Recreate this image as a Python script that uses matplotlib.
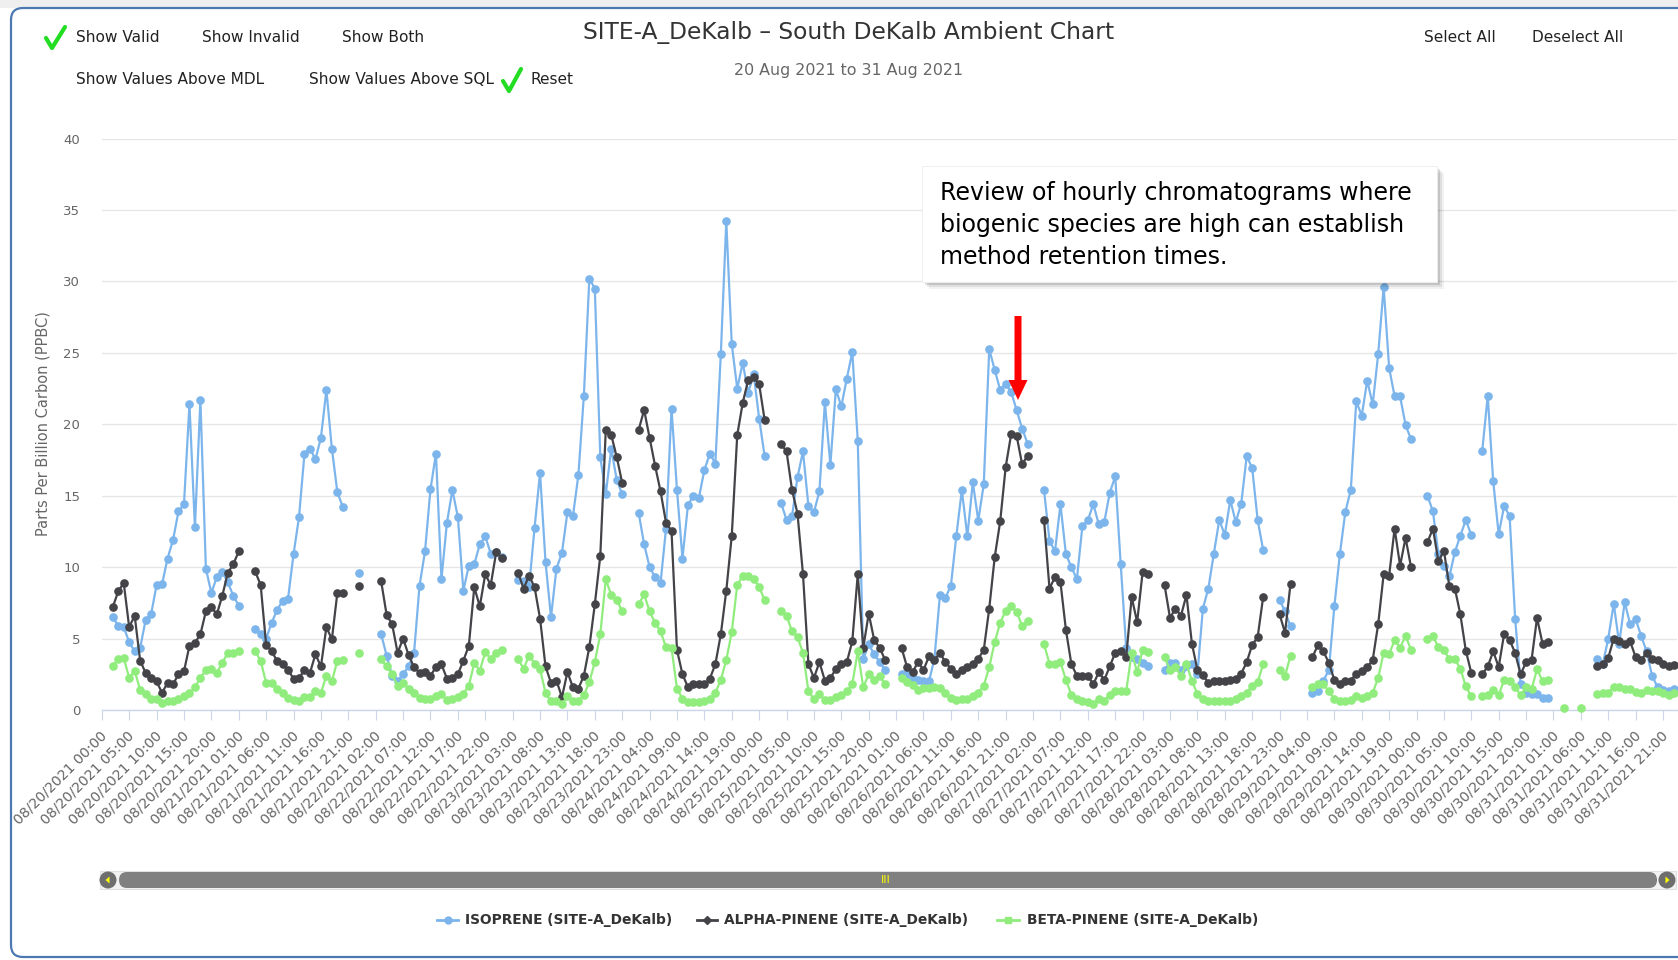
import numpy as np
import matplotlib
matplotlib.use('Agg')
import matplotlib.pyplot as plt
from matplotlib.patches import FancyBboxPatch, Rectangle, Circle, Polygon
from matplotlib.lines import Line2D
from matplotlib.transforms import ScaledTranslation
import pandas as pd

N = None
# hourly values, 08/20/2021 00:00 .. 08/31/2021 23:00 (24 per row)
isoprene = [
    N, N, 6.5, 5.9, 5.8, 4.75, 4.1, 4.35, 6.3, 6.7, 8.75, 8.8, 10.6, 11.9, 13.9, 14.4, 21.4, 12.8, 21.7, 9.9, 8.2, 9.3, 9.65, 8.95,
    8.0, 7.3, N, N, 5.7, 5.35, 5.0, 6.1, 7.0, 7.65, 7.8, 10.9, 13.5, 17.95, 18.3, 17.55, 19.05, 22.4, 18.3, 15.25, 14.2, N, N, 9.6,
    N, N, N, 5.3, 3.8, 2.4, 2.05, 2.5, 3.05, 4.0, 8.7, 11.1, 15.45, 17.95, 9.15, 13.1, 15.4, 13.5, 8.35, 10.1, 10.2, 11.6, 12.15, 10.95,
    11.05, 10.7, N, N, 9.1, 9.0, 8.6, 12.75, 16.6, 10.35, 6.5, 9.9, 11.0, 13.85, 13.55, 16.45, 22.0, 30.2, 29.5, 17.7, 15.1, 18.3, 16.1, 15.1,
    N, N, 13.8, 11.6, 10.0, 9.3, 8.9, 12.7, 21.1, 15.4, 10.6, 14.35, 15.0, 14.85, 16.8, 17.95, 17.25, 24.9, 34.2, 25.6, 22.5, 24.3, 22.2, 23.5,
    20.4, 17.75, N, N, 14.5, 13.3, 13.55, 16.3, 18.1, 14.25, 13.85, 15.3, 21.55, 17.15, 22.45, 21.25, 23.2, 25.05, 18.85, 3.55, 4.6, 3.9, 3.35, 2.8,
    N, N, 2.5, 2.55, 2.25, 2.1, 2.0, 2.0, 3.6, 8.05, 7.85, 8.7, 12.2, 15.4, 12.15, 15.95, 13.25, 15.8, 25.25, 23.8, 22.4, 22.85, 22.25, 21.0,
    19.7, 18.65, N, N, 15.4, 11.85, 11.1, 14.4, 10.9, 10.0, 9.15, 12.85, 13.3, 14.4, 13.0, 13.15, 15.2, 16.35, 10.2, 4.35, 3.7, 3.55, 3.3, 3.05,
    N, N, 2.8, 3.3, 3.3, 2.8, 3.05, 3.2, 2.5, 7.1, 8.5, 10.95, 13.3, 12.25, 14.7, 13.15, 14.45, 17.75, 16.95, 13.3, 11.2, N, N, 7.7,
    6.9, 5.85, N, N, N, 1.2, 1.35, 2.05, 2.8, 7.25, 10.9, 13.85, 15.4, 21.6, 20.6, 23.05, 21.4, 24.9, 29.6, 23.95, 21.95, 21.95, 19.95, 18.95,
    N, N, 15.0, 13.9, 10.9, 10.1, 9.35, 11.05, 12.2, 13.3, 12.25, N, 18.15, 22.0, 16.0, 12.3, 14.3, 13.55, 6.4, 1.85, 1.2, 1.15, 1.1, 0.85,
    0.85, N, N, N, N, N, N, N, N, 3.55, 3.2, 5.0, 7.45, 4.65, 7.55, 6.0, 6.35, 5.2, 4.1, 2.4, 1.6, 1.4, 1.35, 1.45,
]
alpha_pinene = [
    N, N, 7.2, 8.3, 8.9, 5.8, 6.6, 3.45, 2.6, 2.25, 2.0, 1.2, 1.9, 1.8, 2.5, 2.7, 4.5, 4.7, 5.3, 6.9, 7.2, 6.7, 8.0, 9.6,
    10.2, 11.1, N, N, 9.7, 8.75, 4.55, 4.1, 3.45, 3.2, 2.8, 2.2, 2.25, 2.8, 2.6, 3.9, 3.05, 5.8, 4.95, 8.2, 8.2, N, N, 8.7,
    N, N, N, 9.0, 6.65, 6.0, 4.0, 5.0, 3.85, 3.0, 2.6, 2.65, 2.4, 3.0, 3.2, 2.2, 2.25, 2.5, 3.45, 4.5, 8.6, 7.25, 9.5, 8.75,
    11.05, 10.65, N, N, 9.6, 8.5, 9.4, 8.6, 6.4, 3.05, 1.9, 2.05, 0.9, 2.65, 1.6, 1.5, 2.4, 4.4, 7.4, 10.8, 19.6, 19.25, 17.7, 15.9,
    N, N, 19.6, 21.0, 19.05, 17.1, 15.3, 13.1, 12.55, 4.2, 2.5, 1.6, 1.8, 1.8, 1.8, 2.2, 3.2, 5.3, 8.35, 12.2, 19.25, 21.5, 23.1, 23.3,
    22.8, 20.3, N, N, 18.6, 18.1, 15.4, 13.75, 9.5, 3.2, 2.25, 3.35, 2.05, 2.25, 2.85, 3.2, 3.35, 4.8, 9.5, 4.35, 6.75, 4.9, 4.35, 3.5,
    N, N, 4.35, 3.0, 2.65, 3.35, 2.8, 3.75, 3.5, 4.0, 3.35, 2.9, 2.55, 2.8, 3.0, 3.2, 3.6, 4.2, 7.1, 10.7, 13.2, 17.0, 19.3, 19.2,
    17.2, 17.8, N, N, 13.3, 8.5, 9.3, 8.95, 5.6, 3.2, 2.4, 2.4, 2.4, 1.8, 2.65, 2.1, 3.05, 4.0, 4.1, 3.7, 7.9, 6.15, 9.65, 9.55,
    N, N, 8.75, 6.45, 7.1, 6.6, 8.05, 4.65, 2.8, 2.45, 1.9, 2.0, 2.0, 2.05, 2.1, 2.2, 2.55, 3.35, 4.55, 5.1, 7.9, N, N, 6.7,
    5.4, 8.85, N, N, N, 3.7, 4.55, 4.1, 3.3, 2.1, 1.8, 2.0, 2.05, 2.55, 2.7, 3.0, 3.5, 6.0, 9.5, 9.4, 12.7, 10.1, 12.05, 10.0,
    N, N, 11.75, 12.7, 10.4, 11.15, 8.65, 8.5, 6.7, 4.15, 2.6, N, 2.5, 3.05, 4.1, 3.0, 5.35, 4.9, 4.0, 2.5, 3.35, 3.5, 6.45, 4.65,
    4.75, N, N, N, N, N, N, N, N, 3.1, 3.2, 3.65, 5.0, 4.85, 4.65, 4.8, 3.7, 3.5, 4.0, 3.55, 3.5, 3.2, 3.05, 3.15,
]
beta_pinene = [
    N, N, 3.1, 3.55, 3.65, 2.25, 2.75, 1.4, 1.1, 0.8, 0.8, 0.5, 0.6, 0.6, 0.8, 1.0, 1.2, 1.6, 2.25, 2.8, 2.85, 2.6, 3.3, 4.0,
    4.0, 4.15, N, N, 4.1, 3.45, 1.9, 1.9, 1.5, 1.2, 0.85, 0.7, 0.65, 0.9, 0.9, 1.3, 1.2, 2.4, 2.0, 3.45, 3.5, N, N, 4.0,
    N, N, N, 3.55, 3.05, 2.5, 1.7, 1.9, 1.5, 1.2, 0.85, 0.8, 0.8, 0.95, 1.15, 0.7, 0.8, 0.9, 1.15, 1.7, 3.3, 2.75, 4.05, 3.6,
    4.0, 4.2, N, N, 3.55, 2.9, 3.8, 3.25, 2.85, 1.2, 0.6, 0.65, 0.4, 0.95, 0.6, 0.6, 1.05, 1.95, 3.35, 5.3, 9.15, 8.05, 7.7, 6.9,
    N, N, 7.4, 8.1, 6.9, 6.1, 5.5, 4.4, 4.35, 1.5, 0.8, 0.55, 0.55, 0.55, 0.6, 0.8, 1.2, 2.1, 3.5, 5.45, 8.75, 9.4, 9.4, 9.2,
    8.6, 7.7, N, N, 6.9, 6.6, 5.5, 5.1, 4.0, 1.3, 0.75, 1.1, 0.7, 0.7, 0.9, 1.05, 1.3, 1.8, 4.1, 1.6, 2.5, 2.1, 2.4, 1.8,
    N, N, 2.25, 1.95, 1.75, 1.4, 1.55, 1.55, 1.6, 1.55, 1.2, 0.85, 0.7, 0.8, 0.8, 1.0, 1.2, 1.7, 3.0, 4.75, 6.1, 6.95, 7.3, 6.85,
    5.9, 6.25, N, N, 4.6, 3.25, 3.25, 3.35, 2.1, 1.05, 0.75, 0.65, 0.55, 0.45, 0.75, 0.65, 1.05, 1.3, 1.3, 1.3, 4.0, 2.65, 4.2, 4.05,
    N, N, 3.7, 2.8, 3.0, 2.4, 3.2, 2.05, 1.1, 0.8, 0.6, 0.6, 0.6, 0.6, 0.65, 0.8, 0.95, 1.2, 1.7, 1.95, 3.2, N, N, 2.8,
    2.4, 3.8, N, N, N, 1.6, 1.8, 1.8, 1.3, 0.8, 0.6, 0.65, 0.7, 1.0, 0.85, 0.95, 1.2, 2.25, 4.0, 3.9, 4.9, 4.35, 5.2, 4.2,
    N, N, 5.0, 5.15, 4.4, 4.2, 3.55, 3.55, 2.9, 1.65, 0.95, N, 0.95, 1.05, 1.4, 1.05, 2.1, 2.0, 1.6, 1.05, 1.6, 1.45, 2.85, 2.05,
    2.1, N, N, 0.15, N, N, 0.15, N, N, 1.1, 1.2, 1.2, 1.6, 1.6, 1.5, 1.5, 1.25, 1.2, 1.4, 1.35, 1.3, 1.2, 1.05, 1.2,
]
series_names = ['ISOPRENE (SITE-A_DeKalb)', 'ALPHA-PINENE (SITE-A_DeKalb)', 'BETA-PINENE (SITE-A_DeKalb)']
series_colors = ['#7cb5ec', '#434348', '#90ed7d']
yticks = [0, 5, 10, 15, 20, 25, 30, 35, 40]

hours = pd.date_range('2021-08-20 00:00', periods=len(isoprene), freq='h')
tick_idx = list(range(0, len(hours), 5))
tick_labels = [hours[i].strftime('%m/%d/%Y %H:%M') for i in tick_idx]

W, H = 1678, 960
fig = plt.figure(figsize=(W / 100, H / 100), dpi=100)
fig.patch.set_facecolor('white')

px_per_h = 5.478
x0 = 101.8
xmax = 287.5
x1 = x0 + px_per_h * xmax
ytop, ybot = 138.5, 710.0
ax = fig.add_axes([x0 / W, 1 - ybot / H, (x1 - x0) / W, (ybot - ytop) / H])

xs = np.arange(len(hours))
for vals, col in zip([isoprene, alpha_pinene, beta_pinene], series_colors):
    arr = np.array([np.nan if v is None else v for v in vals], dtype=float)
    ax.plot(xs, arr, color=col, lw=1.6, marker='o', ms=5.2, mec=col, mfc=col, clip_on=False, zorder=3)

ax.set_xlim(0, xmax)
ax.set_ylim(0, 40)
ax.set_yticks(yticks)
ax.yaxis.grid(True, color='#e6e6e6', lw=1.0)
ax.set_axisbelow(True)
for s in ['top', 'right', 'left']:
    ax.spines[s].set_visible(False)
ax.spines['bottom'].set_color('#ccd6eb')
ax.spines['bottom'].set_linewidth(1.0)
ax.tick_params(axis='y', length=0, pad=15.5, labelsize=9.5, labelcolor='#666666')
ax.set_xticks(tick_idx)
ax.set_xticklabels(tick_labels, rotation=45, ha='right', va='center', rotation_mode='anchor')
ax.tick_params(axis='x', direction='out', length=7.2, width=0.8, color='#ccd6eb', pad=9.5,
               labelsize=10.2, labelcolor='#666666')
for lab in ax.get_xticklabels():
    lab.set_transform(lab.get_transform() + ScaledTranslation(3 / 100, 0, fig.dpi_scale_trans))

# overlay in pixel coordinates (y downwards)
ov = fig.add_axes([0, 0, 1, 1], zorder=5)
ov.set_xlim(0, W)
ov.set_ylim(H, 0)
ov.axis('off')
ov.patch.set_alpha(0)

renderer = fig.canvas.get_renderer()

def fit(t, target_w):
    bb = t.get_window_extent(renderer)
    t.set_fontsize(t.get_fontsize() * target_w / bb.width)
    return t

# outer frame
ov.add_patch(Rectangle((0, 0), W, 8, fc='#efefef', ec='none'))
ov.add_patch(FancyBboxPatch((11, 8), 1720, 949, boxstyle='round,pad=0,rounding_size=12',
                            fc='none', ec='#4d79b3', lw=1.6))

# title / subtitle
t = ov.text(849, 32, 'SITE-A_DeKalb \u2013 South DeKalb Ambient Chart', ha='center', va='center',
            fontsize=16, color='#333333')
fit(t, 534)
t = ov.text(849, 70, '20 Aug 2021 to 31 Aug 2021', ha='center', va='center', fontsize=11, color='#666666')
fit(t, 228)

# buttons
btn = ov.text(76, 80, 'Show Values Above MDL', ha='left', va='center', fontsize=11, color='#222222')
fit(btn, 189)
bfs = btn.get_fontsize()
for x, y, s in [(76, 37, 'Show Valid'), (202, 37, 'Show Invalid'), (342, 37, 'Show Both'),
                (309, 80, 'Show Values Above SQL'), (530, 80, 'Reset'),
                (1424, 37, 'Select All'), (1532, 37, 'Deselect All')]:
    ov.text(x, y, s, ha='left', va='center', fontsize=bfs, color='#222222')
for pts in [[(46, 38), (52, 48), (65, 27)], [(503, 81), (509, 91), (521, 69)]]:
    ov.add_line(Line2D([p[0] for p in pts], [p[1] for p in pts], color='#22dd22', lw=3.0,
                       solid_capstyle='round', solid_joinstyle='round'))

# y-axis title
yt = ov.text(43, 424, 'Parts Per Billion Carbon (PPBC)', rotation=90, ha='center', va='center',
             fontsize=10.5, color='#666666')

# annotation box with shadow
for k, a in [(7, 0.05), (5, 0.08), (3, 0.12)]:
    ov.add_patch(Rectangle((922 + k, 166 + k), 515, 116, fc='black', ec='none', alpha=a))
ov.add_patch(Rectangle((922, 166), 515, 116, fc='white', ec='#eeeeee', lw=0.6))
ann_lines = ['Review of hourly chromatograms where', 'biogenic species are high can establish',
             'method retention times.']
t1 = ov.text(940, 193, ann_lines[0], ha='left', va='center', fontsize=17, color='black')
fit(t1, 473)
afs = t1.get_fontsize()
ov.text(940, 225, ann_lines[1], ha='left', va='center', fontsize=afs, color='black')
ov.text(940, 257, ann_lines[2], ha='left', va='center', fontsize=afs, color='black')

# red arrow
ov.add_patch(Polygon([(1014.5, 316), (1021.5, 316), (1021.5, 380), (1027.5, 380), (1018, 400),
                      (1008.5, 380), (1014.5, 380)], closed=True, fc='#ff0000', ec='none'))

# scrollbar
ov.add_patch(Rectangle((100, 871), 1576, 18, fc='#f2f2f2', ec='#e0e0e0', lw=0.8))
ov.add_patch(FancyBboxPatch((119, 872), 1538, 16, boxstyle='round,pad=0,rounding_size=8',
                            fc='#808080', ec='none'))
for cx, d in [(108, -1), (1667, 1)]:
    ov.add_patch(Circle((cx, 880), 8.5, fc='#6e6e6e', ec='none'))
    ov.add_patch(Polygon([(cx + 2.5 * d, 880), (cx - 1.5 * d, 876.5), (cx - 1.5 * d, 883.5)],
                         closed=True, fc='#ffff00', ec='none'))
ov.text(886, 880, 'III', ha='center', va='center', fontsize=8, color='#ffff00')

# legend
leg = [(437, 458, 465, 'o'), (697, 717, 724, 'D'), (997, 1019, 1027, 's')]
lt = ov.text(724, 920, series_names[1], ha='left', va='center', fontsize=10, fontweight='bold',
             color='#333333')
fit(lt, 245)
lfs = lt.get_fontsize()
lt.remove()
for (a, b, tx, m), name, col in zip(leg, series_names, series_colors):
    ov.add_line(Line2D([a, b], [920, 920], color=col, lw=2))
    ov.add_line(Line2D([(a + b) / 2], [920], color=col, marker=m, ms=5 if m == 'o' else 4.2, lw=0))
    ov.text(tx, 920, name, ha='left', va='center', fontsize=lfs, fontweight='bold', color='#333333')

fig.savefig('out.png', dpi=100, facecolor='white')
